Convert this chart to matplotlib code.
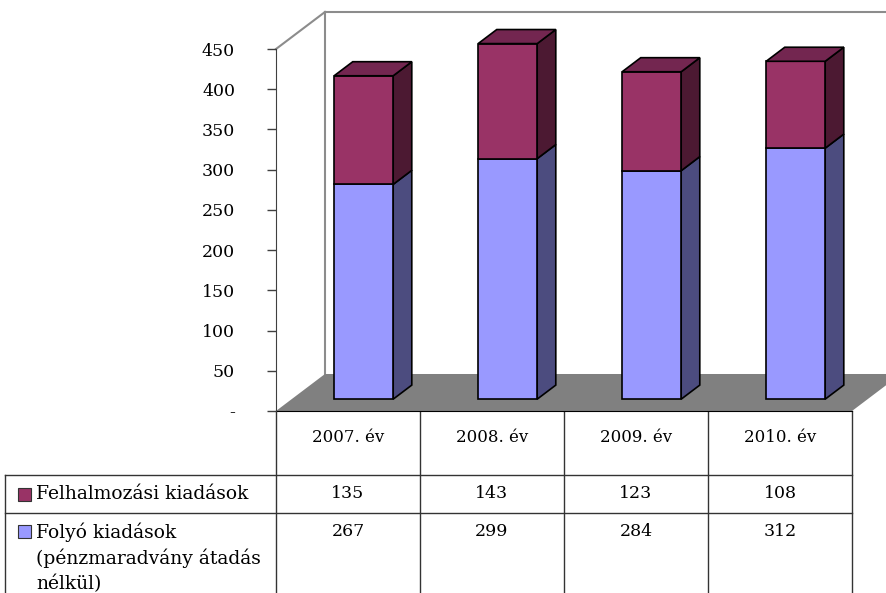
import matplotlib
matplotlib.use('Agg')
import matplotlib.pyplot as plt
from matplotlib.patches import Polygon, Rectangle
import matplotlib.transforms as mtransforms

plt.rcParams['font.family'] = 'DejaVu Serif'
plt.rcParams['font.size'] = 12

# adatok
evek = ['2007. év', '2008. év', '2009. év', '2010. év']
felhalmozasi = [135, 143, 123, 108]
folyo = [267, 299, 284, 312]
y_ticks = [0, 50, 100, 150, 200, 250, 300, 350, 400, 450]
y_labels = ['-', '50', '100', '150', '200', '250', '300', '350', '400', '450']

sorok = ['Felhalmozási kiadások', 'Folyó kiadások']

# szinek (front, oldal, teteje)
kek = ('#9999FF', '#4C4C7F', '#73739F')
piros = ('#993366', '#4C1932', '#732650')

# 3D hatas parameterei (adat egysegben)
depth_x = 0.34
depth_y = 46
f0 = 0.32
f1 = 0.70
bar_w = 0.41

fig = plt.figure(figsize=(8.86, 5.93), dpi=100)

# hatter tengely a tablazathoz (pixel koordinatak)
ov = fig.add_axes([0, 0, 1, 1])
ov.set_xlim(0, 886)
ov.set_ylim(593, 0)
ov.axis('off')

ax = fig.add_axes([276 / 886, 182 / 593, 576 / 886, 362 / 593])
ax.patch.set_visible(False)
ax.set_xlim(0, len(evek))
ax.set_ylim(0, 450)

# padlo
n = len(evek)
ax.add_patch(Polygon([(0, 0), (n, 0), (n + depth_x, depth_y), (depth_x, depth_y)],
                     closed=True, fc='#808080', ec='none', clip_on=False, zorder=1))

# hatso fal vonalai
fal = '#8C8C8C'
ax.plot([depth_x, depth_x], [depth_y, 450 + depth_y], color=fal, lw=1.5, clip_on=False, zorder=0.5)
ax.plot([0, depth_x], [450, 450 + depth_y], color=fal, lw=1.5, clip_on=False, zorder=0.5)
ax.plot([depth_x, n + 2], [450 + depth_y, 450 + depth_y], color=fal, lw=1.5, clip_on=False, zorder=0.5)


def hasab(xc, also, felso, szinek, teteje):
    xl = xc - bar_w / 2
    xr = xc + bar_w / 2
    ax0, ay0 = f0 * depth_x, f0 * depth_y
    ax1, ay1 = f1 * depth_x, f1 * depth_y
    elek = dict(ec='black', lw=1.2, clip_on=False, zorder=3)
    # oldal
    ax.add_patch(Polygon([(xr + ax0, also + ay0), (xr + ax1, also + ay1),
                          (xr + ax1, felso + ay1), (xr + ax0, felso + ay0)],
                         closed=True, fc=szinek[1], **elek))
    # eleje
    ax.add_patch(Rectangle((xl + ax0, also + ay0), bar_w, felso - also, fc=szinek[0], **elek))
    if teteje:
        ax.add_patch(Polygon([(xl + ax0, felso + ay0), (xr + ax0, felso + ay0),
                              (xr + ax1, felso + ay1), (xl + ax1, felso + ay1)],
                             closed=True, fc=szinek[2], **elek))


for i in range(n):
    xc = i + 0.5
    hasab(xc, 0, folyo[i], kek, False)
    hasab(xc, folyo[i], folyo[i] + felhalmozasi[i], piros, True)

# tengelyek
ax.spines['top'].set_visible(False)
ax.spines['right'].set_visible(False)
ax.spines['left'].set_color('#404040')
ax.spines['bottom'].set_color('black')
ax.spines['bottom'].set_zorder(2)
ax.set_xticks([])
ax.set_yticks(y_ticks)
ax.set_yticklabels(y_labels)
ax.tick_params(axis='y', length=6.5, width=1, color='#404040', pad=23, labelsize=12.5)

# tablazat
bl = mtransforms.blended_transform_factory(ax.transData, ov.transData)
vonal = dict(color='#333333', lw=1)
ov.plot([5, 852], [475, 475], **vonal)
ov.plot([5, 852], [513, 513], **vonal)
ov.plot([5, 5], [475, 593], **vonal)
for k in range(n + 1):
    ov.plot([k, k], [411, 593], transform=bl, **vonal)

for i in range(n):
    ov.text(i + 0.5, 438, evek[i], transform=bl, ha='center', va='center', fontsize=12)
    ov.text(i + 0.5, 494, str(felhalmozasi[i]), transform=bl, ha='center', va='center', fontsize=12.5)
    ov.text(i + 0.5, 532, str(folyo[i]), transform=bl, ha='center', va='center', fontsize=12.5)

# jelmagyarazat a tablazatban
ov.add_patch(Rectangle((18, 488), 13, 13, fc=piros[0], ec='#333333', lw=0.8))
ov.text(36, 494, sorok[0], ha='left', va='center', fontsize=13.5)
ov.add_patch(Rectangle((18, 525), 13, 13, fc=kek[0], ec='#333333', lw=0.8))
ov.text(36, 532, sorok[1], ha='left', va='center', fontsize=13.5)
ov.text(36, 558, '(pénzmaradvány átadás', ha='left', va='center', fontsize=13.5)
ov.text(36, 584, 'nélkül)', ha='left', va='center', fontsize=13.5)

plt.savefig('out.png', dpi=100)
plt.close()
